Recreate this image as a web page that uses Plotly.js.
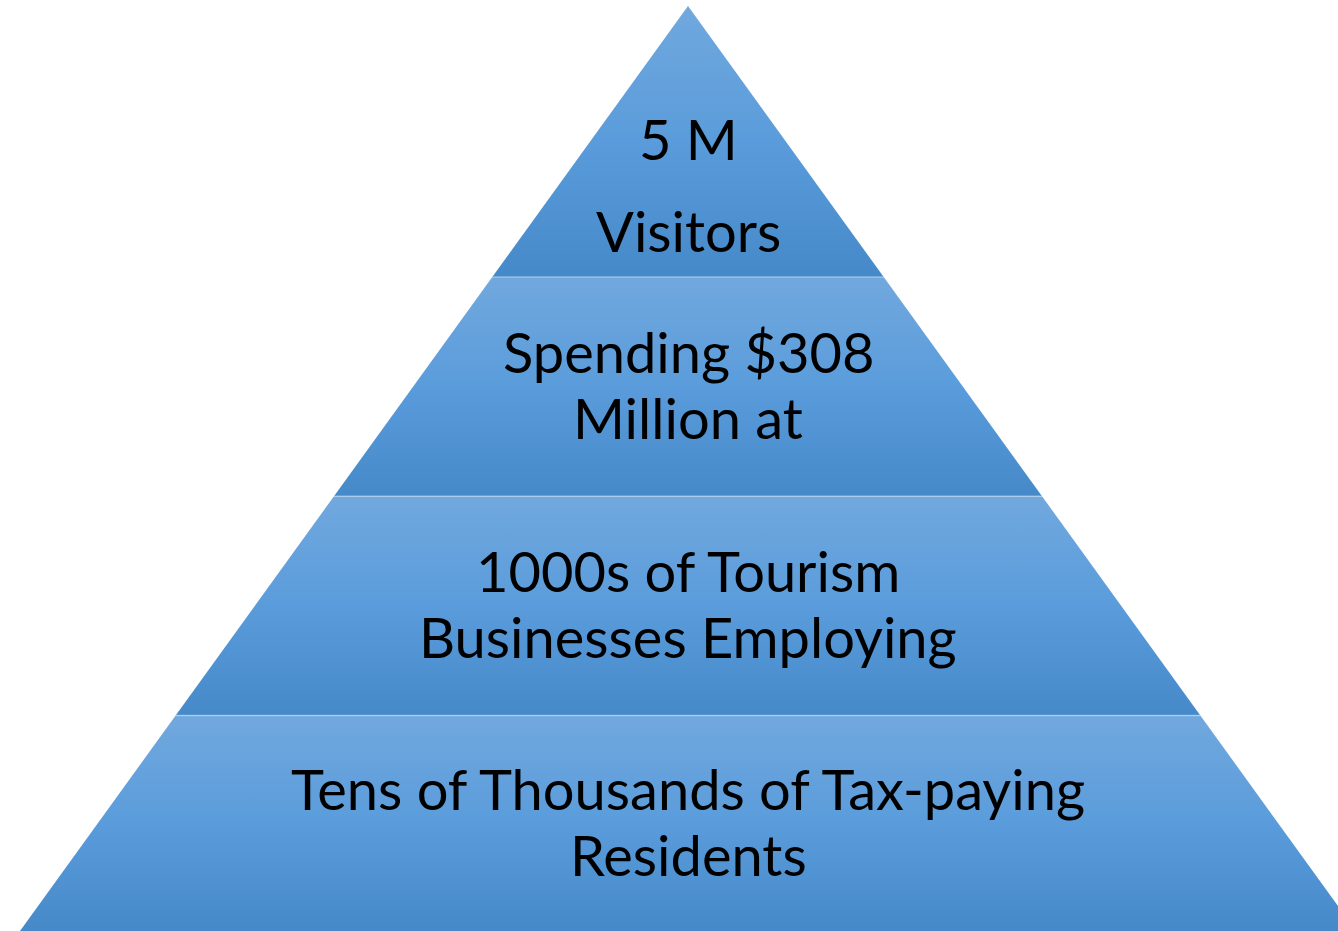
<!DOCTYPE html>
<html>
<head>
<meta charset="utf-8">
<script src="https://cdn.plot.ly/plotly-3.0.1.min.js"></script>
<style>
  html, body { margin: 0; padding: 0; background: #ffffff; }
  #chart { width: 1338px; height: 931px; }
</style>
</head>
<body>
<div id="chart"></div>
<script>
// Pyramid levels, listed from the apex down
const levelLines = [
  ["5 M", "Visitors"],
  ["Spending $308", "Million at"],
  ["1000s of Tourism", "Businesses Employing"],
  ["Tens of Thousands of Tax-paying", "Residents"]
];
// Share of the pyramid's height taken by each level (apex first)
const levelHeights = [0.293, 0.237, 0.237, 0.233];

// Colours
const colTop = '#71a8de';
const colMid = '#5a9cdb';
const colBot = '#4689c9';

// Geometry (data units: y 0 = base, 1 = apex; base half-width = 1)
const W = 1338, H = 931, topMargin = 6;
const plotH = H - topMargin;     // px per y unit
const apexX = 688, baseHalfPx = 668;
const pxPerX = baseHalfPx;
const xRange = [-apexX / pxPerX, (W - apexX) / pxPerX];

function halfWidth(y) { return (1 - y); }

// cumulative boundaries (top of each band)
const bounds = [];
let acc = 1;
for (let i = 0; i < levelHeights.length; i++) {
  const top = acc;
  const bot = Math.max(0, acc - levelHeights[i]);
  bounds.push([top, bot]);
  acc = bot;
}
bounds[bounds.length - 1][1] = 0;

const traces = [];
const annotations = [];
const fontSize = 56;

bounds.forEach(([top, bot], i) => {
  const wt = halfWidth(top), wb = halfWidth(bot);
  traces.push({
    type: 'scatter', mode: 'lines',
    x: [-wb, wb, wt, -wt, -wb],
    y: [bot, bot, top, top, bot],
    fill: 'toself',
    fillgradient: {
      type: 'vertical',
      start: bot, stop: top,
      colorscale: [[0, colBot], [0.5, colMid], [1, colTop]]
    },
    line: { width: 0, color: 'rgba(0,0,0,0)' },
    hoverinfo: 'skip', showlegend: false
  });
  if (i > 0) {
    traces.push({
      type: 'scatter', mode: 'lines',
      x: [-wt, wt], y: [top, top],
      line: { width: 1.5, color: 'rgba(200,225,245,0.55)' },
      hoverinfo: 'skip', showlegend: false
    });
  }
  // text placement
  const frac = i === 0 ? 0.665 : 0.5;
  const centerPx = (1 - top) * plotH + frac * (top - bot) * plotH; // px from plot top
  const gapPx = i === 0 ? 92 : 66;
  const lines = levelLines[i];
  lines.forEach((t, k) => {
    const off = (k - (lines.length - 1) / 2) * gapPx;
    const yPx = centerPx + off - 2;
    annotations.push({
      x: 0, y: 1 - yPx / plotH, xref: 'x', yref: 'y',
      text: t, showarrow: false,
      xanchor: 'center', yanchor: 'middle',
      font: { family: 'Lato, "Open Sans", sans-serif', size: fontSize, color: '#000000' }
    });
  });
});

const layout = {
  width: W, height: H,
  margin: { l: 0, r: 0, t: topMargin, b: 0, pad: 0 },
  paper_bgcolor: '#ffffff', plot_bgcolor: '#ffffff',
  xaxis: { range: xRange, visible: false, fixedrange: true },
  yaxis: { range: [0, 1], visible: false, fixedrange: true },
  showlegend: false,
  hovermode: false,
  annotations: annotations
};

Plotly.newPlot('chart', traces, layout, { displayModeBar: false, staticPlot: true });
</script>
</body>
</html>
